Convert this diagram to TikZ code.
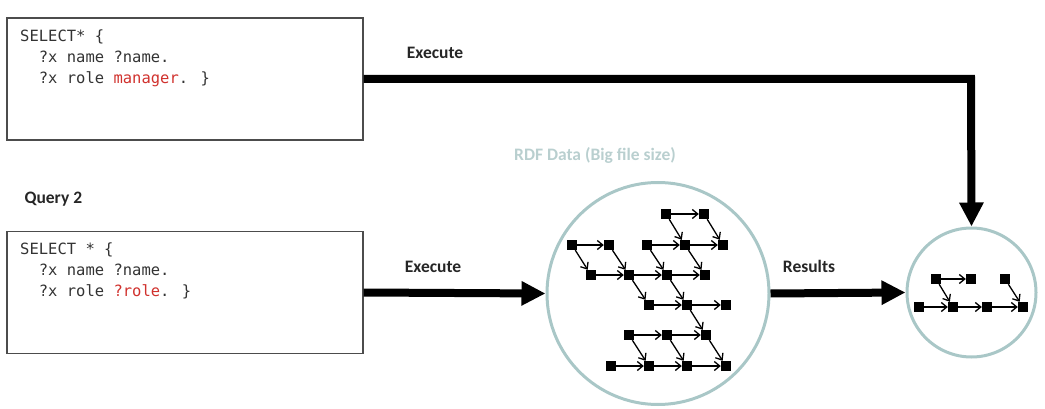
\documentclass[tikz,border=0pt]{standalone}
\usepackage{fontspec}
\setmainfont{Carlito}
\newfontfamily\codefont{DejaVu Sans Mono}
\usetikzlibrary{arrows.meta}
\definecolor{codegray}{HTML}{333333}
\definecolor{codered}{HTML}{D0312D}
\definecolor{ringcol}{HTML}{A9C7C7}
\definecolor{rdfcol}{HTML}{B9CFCF}
\tikzset{
  querybox/.style={draw=black!70, line width=1.2pt, minimum width=356pt, minimum height=122pt, inner sep=0pt},
  codetext/.style={anchor=north west, align=left, inner sep=0pt, font=\codefont\fontsize{15.5}{21}\selectfont, text=codegray},
  lbl/.style={font=\bfseries\fontsize{17.5}{20}\selectfont, text=black!85},
  bigarrow/.style={line width=8pt, -{Triangle[length=24pt,width=23pt]}},
  ring/.style={circle, draw=ringcol, line width=3pt, inner sep=0pt},
  sq/.style={rectangle, fill=black, minimum size=10pt, inner sep=0pt},
  edge/.style={line width=1.3pt, -{Straight Barb[length=5.5pt,width=9pt,line width=1.3pt]}}
}
\begin{document}
\begin{tikzpicture}[x=1pt,y=-1pt]
\useasboundingbox (0,0) rectangle (1045,409);
% query boxes
\node[querybox] (q1) at (185,79) {};
\node[codetext] (c1) at (20,30) {SELECT* \{\\\ \ ?x name ?name.\\\ \ ?x role \textcolor{codered}{manager}. \}};
\node[querybox] (q2) at (185,292.5) {};
\node[codetext] (c2) at (20,243) {SELECT * \{\\\ \ ?x name ?name.\\\ \ ?x role \textcolor{codered}{?role}. \}};
\node[lbl, anchor=west] (qlab) at (21,199) {Query 2};
% circles
\node[ring, minimum size=222pt] (big) at (658,293.5) {};
\node[ring, minimum size=129pt] (small) at (971.5,292.5) {};
\node[font=\bfseries\fontsize{17.5}{20}\selectfont, text=rdfcol] (rdf) at (595,155) {RDF Data (Big file size)};
% labels
\node[lbl] (ex1) at (435,53) {Execute};
\node[lbl] (ex2) at (433,267) {Execute};
\node[lbl] (res) at (809,266) {Results};
% arrows
\coordinate (corner) at (971,79);
\draw[bigarrow] (q1.east) -- (corner) -- (small.north);
\draw[bigarrow] (q2.east) -- (big.west);
\draw[bigarrow] (big.east) -- (small.west);
% big graph
\foreach \n/\x/\y in {a1/666/214, a2/704/214,
  b1/572/245, b2/609/245, b3/647/245, b4/685/245, b5/723/245,
  c1/591/275, c2/629/275, c3/667/275, c4/705/275,
  d1/649/305, d2/687/305, d3/726/305,
  e1/629/335, e2/667/335, e3/706/335,
  f1/611/366, f2/649/366, f3/687/366, f4/726/366}
  \node[sq] (\n) at (\x,\y) {};
\foreach \s/\t in {a1/a2, b1/b2, b3/b4, b4/b5, c1/c2, c2/c3, c3/c4, d1/d2, d2/d3, e1/e2, e2/e3, f1/f2, f2/f3, f3/f4,
  a1/b4, a2/b5, b1/c1, b2/c2, b3/c3, b4/c4, c2/d1, c3/d2, d2/e3, e1/f2, e2/f3, e3/f4}
  \draw[edge] (\s) -- (\t);
% small graph
\foreach \n/\x/\y in {s1/936/279, s2/971/279, s3/1005/279,
  t1/919/307, t2/953/307, t3/987/307, t4/1023/307}
  \node[sq] (\n) at (\x,\y) {};
\foreach \s/\t in {s1/s2, s1/t2, s3/t4, t1/t2, t2/t3, t3/t4}
  \draw[edge] (\s) -- (\t);
\end{tikzpicture}
\end{document}
